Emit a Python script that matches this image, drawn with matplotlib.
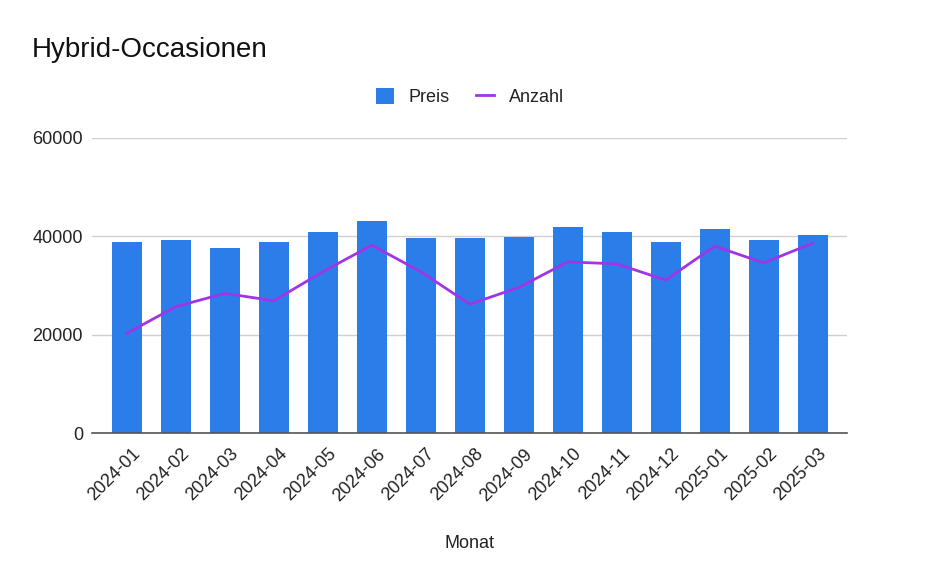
import numpy as np
import matplotlib.pyplot as plt
from matplotlib.transforms import ScaledTranslation

# -----------------------------
# Daten
# -----------------------------
monate = ["2024-01", "2024-02", "2024-03", "2024-04", "2024-05", "2024-06",
          "2024-07", "2024-08", "2024-09", "2024-10", "2024-11", "2024-12",
          "2025-01", "2025-02", "2025-03"]
preis = [38900, 39250, 37700, 38900, 40900, 43100, 39600, 39600,
         39900, 41800, 40900, 38900, 41500, 39250, 40300]
anzahl = [20300, 25700, 28400, 26900, 32800, 38200, 32800, 26200,
          29600, 34800, 34400, 31100, 38000, 34600, 38600]
y_ticks = [0, 20000, 40000, 60000]

plt.rcParams['font.family'] = ['Liberation Sans', 'DejaVu Sans']

# -----------------------------
# Plot
# -----------------------------
fig = plt.figure(figsize=(9.4, 5.81), dpi=100)
ax = fig.add_axes([0.098, 0.2547, 0.803, 0.5078])

x = np.arange(len(monate))
bars = ax.bar(x, preis, width=0.61, color='#2b7de9', label='Preis', zorder=2)
line, = ax.plot(x, anzahl, color='#a035e8', lw=2, label='Anzahl', zorder=3)

ax.set_xlim(-0.71, len(monate) - 0.3)
ax.set_ylim(0, 60000)
ax.set_yticks(y_ticks)
ax.set_yticklabels([str(v) for v in y_ticks])
ax.grid(axis='y', color='#d0d0d0', lw=1, zorder=0)
ax.set_axisbelow(True)

for s in ['top', 'right', 'left']:
    ax.spines[s].set_visible(False)
ax.spines['bottom'].set_color('#555555')
ax.spines['bottom'].set_linewidth(1.2)
ax.spines['bottom'].set_zorder(4)

ax.tick_params(axis='both', length=0, labelsize=13, colors='#222222')
ax.tick_params(axis='y', pad=6.5)
ax.tick_params(axis='x', pad=9)
ax.set_xticks(x)
ax.set_xticklabels(monate, rotation=45, ha='right', rotation_mode='anchor')
# Beschriftungen leicht nach rechts schieben
off = ScaledTranslation(5 / 100, 0, fig.dpi_scale_trans)
for lbl in ax.get_xticklabels():
    lbl.set_transform(lbl.get_transform() + off)

ax.set_xlabel('Monat', fontsize=13, color='#222222', labelpad=22)

fig.text(0.034, 0.9024, 'Hybrid-Occasionen', fontsize=20, color='#111111',
         va='baseline', ha='left')

fig.legend([bars, line], ['Preis', 'Anzahl'], loc='center',
           bbox_to_anchor=(0.5, 0.833), ncol=2, frameon=False,
           fontsize=13, handlelength=1.0, handleheight=1.0, handletextpad=0.8,
           columnspacing=1.45, labelcolor='#222222')

plt.savefig('out.png', dpi=100)
